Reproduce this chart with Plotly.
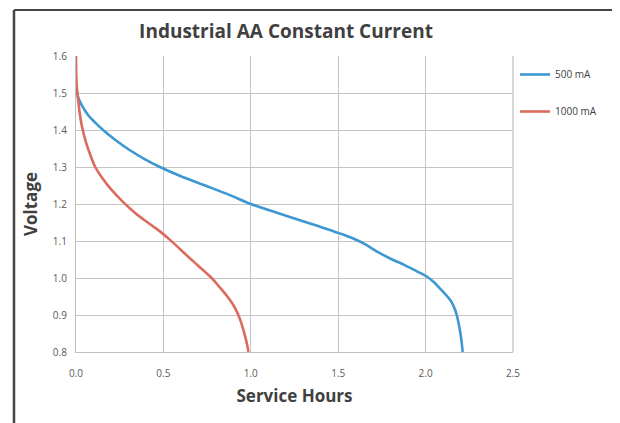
import plotly.graph_objects as go

hours_500 = [0.0, 0.005, 0.015, 0.035, 0.07, 0.11, 0.155, 0.22, 0.3, 0.39, 0.48, 0.6, 0.75, 0.88, 1.0, 1.12, 1.25,
             1.38, 1.5, 1.58, 1.65, 1.72, 1.8, 1.88, 1.95, 2.006, 2.045, 2.082, 2.14, 2.162, 2.178, 2.192, 2.203, 2.212]
volts_500 = [1.525, 1.505, 1.485, 1.465, 1.44, 1.42, 1.40, 1.375, 1.348, 1.322, 1.30, 1.275, 1.248, 1.224, 1.20, 1.181, 1.161,
             1.141, 1.122, 1.108, 1.092, 1.072, 1.052, 1.035, 1.018, 1.004, 0.99, 0.972, 0.941, 0.922, 0.90, 0.87, 0.838, 0.80]

hours_1000 = [0.0, 0.001, 0.004, 0.01, 0.02, 0.034, 0.055, 0.08, 0.11, 0.15, 0.2, 0.27, 0.34, 0.41, 0.48, 0.538,
              0.652, 0.776, 0.822, 0.866, 0.90, 0.929, 0.95, 0.966, 0.978, 0.987]
volts_1000 = [1.60, 1.56, 1.52, 1.49, 1.45, 1.41, 1.37, 1.335, 1.30, 1.27, 1.24, 1.205, 1.175, 1.15, 1.126, 1.103,
              1.053, 1.00, 0.975, 0.95, 0.927, 0.90, 0.872, 0.845, 0.822, 0.80]

x_ticks = [0.0, 0.5, 1.0, 1.5, 2.0, 2.5]
y_ticks = [0.8, 0.9, 1.0, 1.1, 1.2, 1.3, 1.4, 1.5, 1.6]

FONT = "Open Sans"
fig = go.Figure()
fig.add_trace(go.Scatter(x=hours_500, y=volts_500, mode="lines", name="500 mA",
                         line=dict(color="#3d97d1", width=2.6, shape="spline", smoothing=1.0),
                         legendgroup="a"))
fig.add_trace(go.Scatter(x=hours_1000, y=volts_1000, mode="lines", name="1000 mA",
                         line=dict(color="#dc6b5e", width=2.6, shape="spline", smoothing=1.0),
                         legendgroup="b"))

OFF = 8  # page offset of the figure in the browser
W, H = 620 - OFF, 423 - OFF
L, T = 76 - OFF, 56 - OFF
R = W - (513 - OFF)
B = H - (352 - OFF)
pw, ph = W - L - R, H - T - B

def px(x):
    return (x - OFF - L) / pw

def py(y):
    return 1 - (y - OFF - T) / ph

fig.update_layout(
    width=W, height=H,
    margin=dict(l=L, r=R, t=T, b=B),
    paper_bgcolor="white", plot_bgcolor="white",
    font=dict(family=FONT, color="#595959", size=10),
    title=dict(text="<b>Industrial AA Constant Current</b>", x=(286 - OFF) / W, xanchor="center",
               y=1 - (31 - OFF) / H, yanchor="middle", font=dict(size=19, color="#404040", family=FONT)),
    showlegend=True,
    legend=dict(x=px(515), y=py(60), xanchor="left", yanchor="top",
                traceorder="grouped", tracegroupgap=18, font=dict(size=10, color="#404040"),
                bgcolor="rgba(0,0,0,0)", itemwidth=30),
    xaxis=dict(range=[0, 2.5], tickvals=x_ticks, ticktext=[f"{v:.1f}" for v in x_ticks],
               showgrid=True, gridcolor="#c4c4c4", gridwidth=1.3,
               showline=True, linecolor="#bfbfbf", linewidth=1.3, mirror=False,
               zeroline=False, ticks="", ticklabelstandoff=12,
               title=dict(text="<b>Service Hours</b>", font=dict(size=17, color="#404040", family=FONT), standoff=10)),
    yaxis=dict(range=[0.8, 1.6], tickvals=y_ticks, ticktext=[f"{v:.1f}" for v in y_ticks],
               showgrid=True, gridcolor="#c4c4c4", gridwidth=1.3,
               showline=True, linecolor="#bfbfbf", linewidth=1.3,
               zeroline=False, ticks="", ticklabelstandoff=6,
               title=dict(text="<b>Voltage</b>", font=dict(size=17, color="#404040", family=FONT), standoff=10)),
)

# right border of plot area
fig.add_shape(type="line", xref="paper", yref="paper", x0=1, x1=1, y0=0, y1=1,
              line=dict(color="#c4c4c4", width=1.3))
# outer frame
fig.add_shape(type="line", xref="paper", yref="paper", x0=px(14), x1=px(14), y0=py(10), y1=py(440),
              line=dict(color="#4a4446", width=2.5))
fig.add_shape(type="line", xref="paper", yref="paper", x0=px(14), x1=px(619), y0=py(10), y1=py(10),
              line=dict(color="#4a4446", width=2))
fig.add_shape(type="line", xref="paper", yref="paper", x0=px(618.5), x1=px(618.5), y0=py(10), y1=py(440),
              line=dict(color="#8a8a8a", width=1.2))

fig.write_html("out.html")
